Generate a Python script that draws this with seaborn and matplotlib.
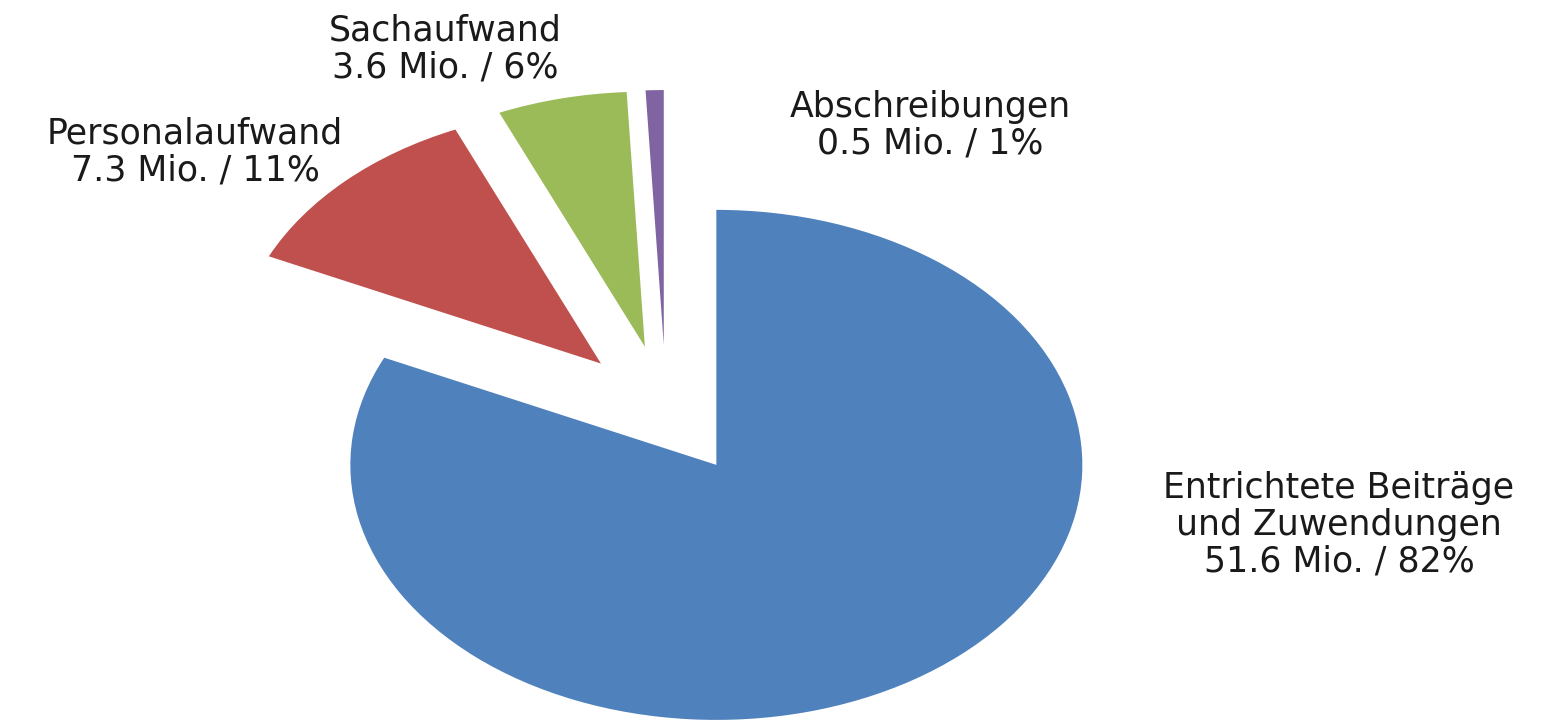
import matplotlib
matplotlib.use("Agg")
import matplotlib.pyplot as plt
import seaborn as sns

categories = ["Entrichtete Beiträge\nund Zuwendungen", "Personalaufwand", "Sachaufwand", "Abschreibungen"]
values_mio = [51.6, 7.3, 3.6, 0.5]
percent_labels = [82, 11, 6, 1]
colors = ["#4F81BD", "#C0504D", "#9BBB59", "#8064A2"]

sns.set_theme(style="white")
plt.rcParams['font.family'] = ['DejaVu Sans']

fig = plt.figure(figsize=(15.54, 7.23), dpi=100)
ax = fig.add_axes([0, 0, 1, 1])

wedges, _ = ax.pie(values_mio, colors=colors, startangle=90, counterclock=False,
                   explode=[0.255] * len(values_mio), radius=1.0,
                   wedgeprops=dict(linewidth=0))
ax.set_aspect('auto')
ax.set_xlim(-1.82, 2.426)
ax.set_ylim(-1.227, 1.608)
ax.axis('off')

# label positions in figure fraction (layout only)
label_pos = [(1339 / 1554, 1 - 525 / 723), (195 / 1554, 1 - 152 / 723),
             (445 / 1554, 1 - 49 / 723), (930 / 1554, 1 - 125 / 723)]
for name, v, p, (x, y) in zip(categories, values_mio, percent_labels, label_pos):
    fig.text(x, y, f"{name}\n{v:.1f} Mio. / {p}%", ha="center", va="center",
             fontsize=25, color="#1a1a1a", linespacing=1.1)

fig.savefig("out.png", dpi=100, facecolor="white")
